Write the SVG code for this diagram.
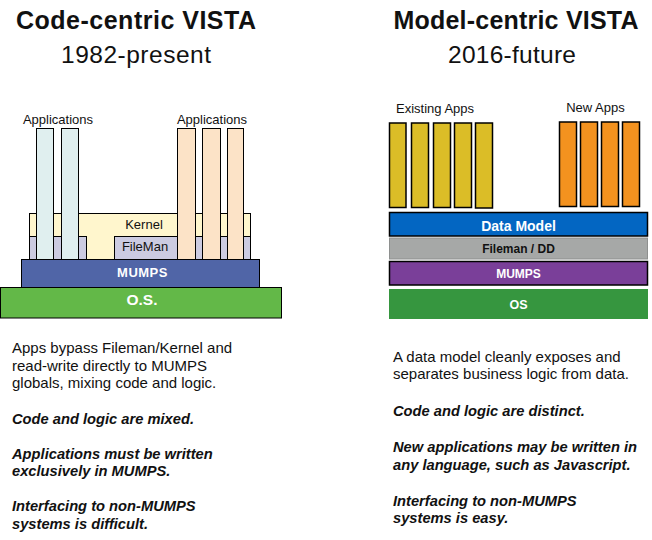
<svg xmlns="http://www.w3.org/2000/svg" width="652" height="540" viewBox="0 0 652 540">
<style>
text{font-family:"Liberation Sans",Arial,sans-serif;fill:#111}
.title{font-size:25px;font-weight:bold;text-anchor:middle}
.sub{font-size:24.5px;text-anchor:middle}
.body{font-size:15px}
.bi{font-size:14.7px;font-weight:bold;font-style:italic}
.lbl{font-size:13px;text-anchor:middle}
.wl{font-weight:bold;fill:#fff;text-anchor:middle}
.ln{stroke:#000;stroke-width:1}
.ap{stroke:#000;stroke-width:1.5}
</style>
<rect width="652" height="540" fill="#fff"/>
<g id="titles">
<text class="title" x="136" y="29" textLength="240">Code-centric VISTA</text>
<text class="sub" x="136" y="63" textLength="150">1982-present</text>
<text class="title" x="516" y="29" textLength="245">Model-centric VISTA</text>
<text class="sub" x="512" y="63" textLength="128">2016-future</text>
</g>
<g id="left-stack">
<g id="kernel"><rect class="ln" x="29.5" y="213.5" width="221" height="46" fill="#FFF6CD"/><text class="lbl" x="144" y="228.5">Kernel</text></g>
<g id="lav-left"><rect class="ln" x="29.5" y="236.5" width="57" height="23" fill="#CCCBE1"/></g>
<g id="fileman"><rect class="ln" x="114.5" y="236.5" width="136" height="23" fill="#CCCBE1"/><text class="lbl" x="145" y="251">FileMan</text></g>
<g id="apps-left">
<text class="lbl" x="58" y="124">Applications</text>
<rect class="ln" x="36.5" y="128.5" width="17" height="131" fill="#E0EFEF"/>
<rect class="ln" x="61.5" y="128.5" width="17" height="131" fill="#E0EFEF"/>
</g>
<g id="apps-right">
<text class="lbl" x="212" y="124">Applications</text>
<rect class="ln" x="177.5" y="128.5" width="18" height="131" fill="#FCE3C7"/>
<rect class="ln" x="202.5" y="128.5" width="18" height="131" fill="#FCE3C7"/>
<rect class="ln" x="227.5" y="128.5" width="16" height="131" fill="#FCE3C7"/>
</g>
<g id="mumps-left"><rect class="ln" x="21.5" y="259.5" width="238" height="28" fill="#5065A7"/><text class="wl" x="142.5" y="277" font-size="13" letter-spacing="0.5">MUMPS</text></g>
<g id="os-left"><rect class="ln" x="0.5" y="287.5" width="281" height="30.5" fill="#63B848"/><text class="wl" x="142" y="305" font-size="15.5">O.S.</text></g>
</g>
<g id="right-stack">
<g id="existing-apps">
<text class="lbl" x="435" y="112.5" font-size="11">Existing Apps</text>
<rect class="ap" x="389.5" y="123" width="16.5" height="84.5" fill="#DBBD27"/>
<rect class="ap" x="411.5" y="123" width="17" height="84.5" fill="#DBBD27"/>
<rect class="ap" x="433.5" y="123" width="17" height="84.5" fill="#DBBD27"/>
<rect class="ap" x="454.5" y="123" width="17" height="84.5" fill="#DBBD27"/>
<rect class="ap" x="475.5" y="123" width="17" height="85" fill="#DBBD27"/>
</g>
<g id="new-apps">
<text class="lbl" x="595.5" y="111.5" font-size="11">New Apps</text>
<rect class="ap" x="559.5" y="122" width="17" height="84.5" fill="#F3921F"/>
<rect class="ap" x="580.5" y="122" width="17" height="84.5" fill="#F3921F"/>
<rect class="ap" x="601.5" y="122" width="17" height="84.5" fill="#F3921F"/>
<rect class="ap" x="622.5" y="122" width="17" height="84.5" fill="#F3921F"/>
</g>
<g id="data-model"><rect class="ap" x="389.5" y="212.5" width="258" height="23.5" fill="#0366C2"/><text class="wl" x="518.5" y="230.5" font-size="14">Data Model</text></g>
<g id="fileman-dd"><rect x="389.5" y="238" width="258" height="21" fill="#A6A8A7" stroke="#8E908F" stroke-width="1"/><text x="518.5" y="252.5" font-size="12" font-weight="bold" text-anchor="middle" fill="#222">Fileman / DD</text></g>
<g id="mumps-right"><rect class="ap" x="389.5" y="261.5" width="258" height="23.5" fill="#7A3F99"/><text class="wl" x="518.5" y="277.5" font-size="12">MUMPS</text></g>
<g id="os-right"><rect x="389" y="289" width="259" height="30" fill="#36963F"/><text class="wl" x="518.5" y="308.5" font-size="12.5">OS</text></g>
</g>
<g id="left-text">
<text class="body" x="12" y="353">Apps bypass Fileman/Kernel and</text>
<text class="body" x="12" y="370.5">read-write directly to MUMPS</text>
<text class="body" x="12" y="388">globals, mixing code and logic.</text>
<text class="bi" x="12" y="423.5">Code and logic are mixed.</text>
<text class="bi" x="12" y="458.5">Applications must be written</text>
<text class="bi" x="12" y="476">exclusively in MUMPS.</text>
<text class="bi" x="12" y="511">Interfacing to non-MUMPS</text>
<text class="bi" x="12" y="528.5">systems is difficult.</text>
</g>
<g id="right-text">
<text class="body" x="393" y="362">A data model cleanly exposes and</text>
<text class="body" x="393" y="379">separates business logic from data.</text>
<text class="bi" x="393" y="416">Code and logic are distinct.</text>
<text class="bi" x="393" y="452">New applications may be written in</text>
<text class="bi" x="393" y="469.5">any language, such as Javascript.</text>
<text class="bi" x="393" y="505.5">Interfacing to non-MUMPS</text>
<text class="bi" x="393" y="523">systems is easy.</text>
</g>
</svg>
